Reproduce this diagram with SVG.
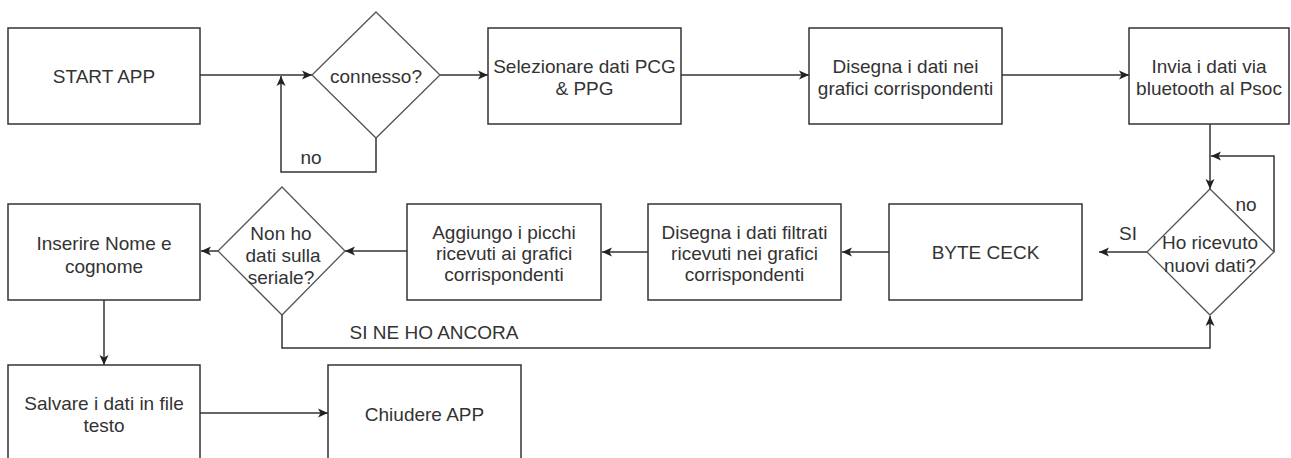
<svg xmlns="http://www.w3.org/2000/svg" width="1291" height="458" viewBox="0 0 1291 458">
<defs>
<marker id="arr" markerUnits="userSpaceOnUse" markerWidth="12" markerHeight="12" viewBox="0 0 12 12" refX="11" refY="6" orient="auto">
<path d="M1,1.5 L11,6 L1,10.5 L3.5,6 Z" fill="#222"/>
</marker>
<style>
.box{fill:#fff;stroke:#333;stroke-width:1.5}
.dia{fill:#fff;stroke:#555;stroke-width:1.3}
.t{font-family:"Liberation Sans",Arial,sans-serif;font-size:19px;fill:#333;text-anchor:middle;dominant-baseline:central}
.c{fill:none;stroke:#333;stroke-width:1.5}
.ca{fill:none;stroke:#333;stroke-width:1.5;marker-end:url(#arr)}
</style>
</defs>
<rect width="1291" height="458" fill="#fff"/>
<g id="connectors">
<path class="ca" d="M200,75 H312"/>
<path class="ca" d="M376,138 V172 H281 V76"/>
<path class="ca" d="M440,75 H488"/>
<path class="ca" d="M681,75 H809"/>
<path class="ca" d="M1002,75 H1129"/>
<path class="ca" d="M1210,124 V189"/>
<path class="ca" d="M1274,252 V156 H1211"/>
<path class="ca" d="M1147,252 H1099"/>
<path class="ca" d="M889,252 H842"/>
<path class="ca" d="M648,252 H602"/>
<path class="ca" d="M407,251 H345"/>
<path class="ca" d="M218,251 H201"/>
<path class="ca" d="M282,315 V348 H1210 V316"/>
<path class="ca" d="M104,300 V365"/>
<path class="ca" d="M200,413 H328"/>
<text class="t" x="311" y="157">no</text>
<text class="t" x="1246" y="204">no</text>
<text class="t" x="1128" y="233">SI</text>
<text class="t" x="434" y="332">SI NE HO ANCORA</text>
</g>
<g id="start"><rect class="box" x="8" y="28" width="192" height="96"/><text class="t" x="104" y="76">START APP</text></g>
<g id="connesso"><path class="dia" d="M376,12 L440,75 L376,138 L312,75 Z"/><text class="t" x="376" y="76">connesso?</text></g>
<g id="selezionare"><rect class="box" x="488" y="28" width="193" height="96"/><text class="t" x="584.5" y="66">Selezionare dati PCG</text><text class="t" x="584.5" y="88">&amp; PPG</text></g>
<g id="disegna"><rect class="box" x="809" y="28" width="193" height="96"/><text class="t" x="905.5" y="66">Disegna i dati nei</text><text class="t" x="905.5" y="88">grafici corrispondenti</text></g>
<g id="invia"><rect class="box" x="1129" y="28" width="160" height="96"/><text class="t" x="1209" y="66">Invia i dati via</text><text class="t" x="1209" y="88">bluetooth al Psoc</text></g>
<g id="ricevuto"><path class="dia" d="M1210,189 L1274,252 L1210,315 L1147,252 Z"/><text class="t" x="1210" y="242">Ho ricevuto</text><text class="t" x="1210" y="265">nuovi dati?</text></g>
<g id="bytececk"><rect class="box" x="889" y="204" width="193" height="96"/><text class="t" x="985.5" y="252">BYTE CECK</text></g>
<g id="filtrati"><rect class="box" x="648" y="204" width="193" height="96"/><text class="t" x="744.5" y="232">Disegna i dati filtrati</text><text class="t" x="744.5" y="253">ricevuti nei grafici</text><text class="t" x="744.5" y="274">corrispondenti</text></g>
<g id="aggiungo"><rect class="box" x="407" y="204" width="194" height="96"/><text class="t" x="504" y="232">Aggiungo i picchi</text><text class="t" x="504" y="253">ricevuti ai grafici</text><text class="t" x="504" y="274">corrispondenti</text></g>
<g id="seriale"><path class="dia" d="M282,187 L345,251 L282,315 L218,251 Z"/><text class="t" x="281" y="233">Non ho</text><text class="t" x="283" y="255">dati sulla</text><text class="t" x="281" y="277">seriale?</text></g>
<g id="inserire"><rect class="box" x="8" y="204" width="192" height="96"/><text class="t" x="104" y="243">Inserire Nome e</text><text class="t" x="104" y="266">cognome</text></g>
<g id="salvare"><rect class="box" x="8" y="365" width="192" height="100"/><text class="t" x="104" y="403">Salvare i dati in file</text><text class="t" x="104" y="425">testo</text></g>
<g id="chiudere"><rect class="box" x="328" y="365" width="193" height="100"/><text class="t" x="424.5" y="414">Chiudere APP</text></g>
</svg>
